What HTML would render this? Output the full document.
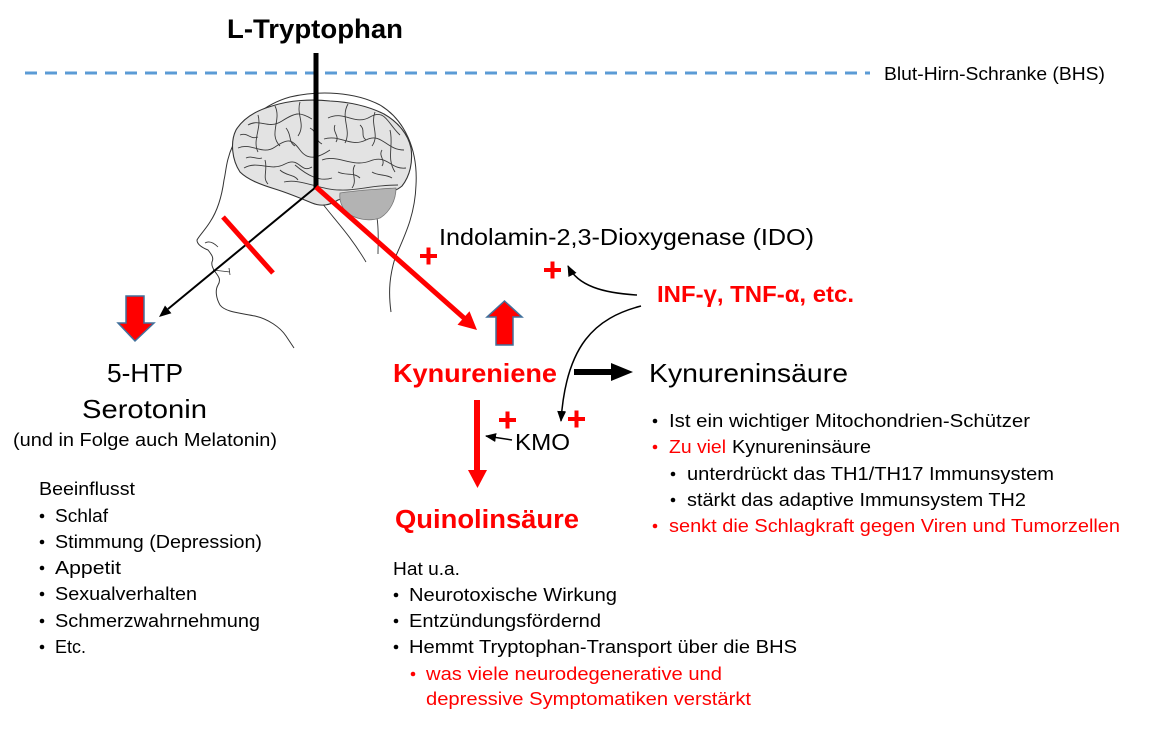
<!DOCTYPE html>
<html>
<head>
<meta charset="utf-8">
<style>
html,body{margin:0;padding:0;background:#fff;}
svg{display:block;}
text{font-family:"Liberation Sans",Arial,sans-serif;}
</style>
</head>
<body>
<svg width="1160" height="730" viewBox="0 0 1160 730" xmlns="http://www.w3.org/2000/svg">
<defs>
<marker id="ah" markerWidth="11" markerHeight="9" refX="10" refY="4.5" orient="auto" markerUnits="userSpaceOnUse">
<path d="M0,0 L11,4.5 L0,9 Z" fill="#000"/>
</marker>
</defs>
<rect width="1160" height="730" fill="#fff"/>

<!-- Blood-brain barrier dashed line -->
<path d="M25,73 H870" stroke="#5B9BD5" stroke-width="3" stroke-dasharray="12,8" fill="none"/>

<!-- Head outline -->
<path d="M391,312 C388,290 390,275 395,258 C405,235 415,215 416,185 C418,150 405,120 380,105 C355,92 320,90 290,97 C265,104 243,122 233,145 C226,160 226,172 224,180 C222,195 218,210 210,222 C205,230 199,236 197,240 C197,245 203,248 208,250 C212,255 214,258 212,262 C211,266 214,270 216,273 C219,277 221,280 218,285 C215,290 216,298 220,305 C225,312 240,313 255,316 C268,319 280,327 286,336 L294,348" fill="none" stroke="#333" stroke-width="1"/>
<path d="M213,270 L230,272 M229,268 L230,275" fill="none" stroke="#333" stroke-width="0.8"/>
<path d="M205,243 C210,240 215,244 218,247" fill="none" stroke="#333" stroke-width="0.8"/>
<!-- neck lines -->
<path d="M322,203 C335,220 350,235 366,262" fill="none" stroke="#333" stroke-width="0.9"/>
<path d="M377,218 C379,230 378,242 378,254" fill="none" stroke="#333" stroke-width="0.9"/>

<!-- Brain -->
<path d="M240,172 C232,160 230,142 236,130 C244,117 258,110 272,106 C290,100 312,99 330,101 C350,102 368,106 384,114 C398,122 408,134 411,148 C413,162 410,176 402,186 C395,192 385,194 375,194 C360,194 348,196 338,200 C330,205 322,207 312,203 C300,198 288,193 275,189 C262,185 248,180 240,172 Z" fill="#e3e3e3" stroke="#333" stroke-width="1.1"/>
<path d="M340,193 C360,190 380,189 396,188 C396,200 390,212 380,218 C368,222 355,219 346,212 C341,206 339,200 340,193 Z" fill="#b3b3b3" stroke="#777" stroke-width="0.8"/>
<g fill="none" stroke="#3a3a3a" stroke-width="0.9">
<path d="M248,125 C260,118 268,130 282,121 S300,112 312,119"/>
<path d="M238,148 C252,142 262,156 275,147 S292,139 300,150 S318,158 330,150"/>
<path d="M244,168 C258,160 270,172 285,164 S300,174 312,167"/>
<path d="M328,118 C344,110 355,126 370,117 S388,124 400,135"/>
<path d="M324,139 C340,134 350,148 366,140 S386,150 404,150"/>
<path d="M322,160 C338,154 352,168 370,161 S390,170 406,168"/>
<path d="M275,106 C282,120 268,134 280,146"/>
<path d="M300,102 C296,115 306,124 298,136"/>
<path d="M348,104 C340,118 352,130 345,143"/>
<path d="M375,112 C370,125 380,135 372,146"/>
<path d="M258,115 C262,128 252,140 258,152"/>
<path d="M295,165 C308,176 320,182 332,178"/>
<path d="M284,182 C300,178 320,190 340,190 C356,191 372,185 398,185"/>
<path d="M390,130 C394,145 386,158 395,172"/>
<path d="M265,160 C268,170 262,178 268,184"/>
<path d="M355,165 C350,172 358,180 352,188"/>
<path d="M240,135 C248,132 250,140 258,137"/>
<path d="M286,128 C292,135 288,142 295,146"/>
<path d="M310,128 C318,132 314,140 322,144"/>
<path d="M335,125 C332,132 340,136 336,142"/>
<path d="M360,125 C366,130 360,136 366,140"/>
<path d="M246,158 C252,155 256,160 262,158"/>
<path d="M280,170 C286,176 294,174 298,180"/>
<path d="M382,150 C378,156 386,160 382,166"/>
<path d="M338,172 C346,176 354,172 360,178"/>
<path d="M372,172 C378,176 386,174 392,178"/>
</g>

<!-- Main vertical black line -->
<path d="M316,53 V189" stroke="#000" stroke-width="5"/>

<!-- thin black line to 5-HTP -->
<path d="M316,187 L168,309" stroke="#000" stroke-width="2" fill="none"/>
<polygon points="159,317 171.4,313.2 165,305.5" fill="#000"/>

<!-- red line to Kynureniene -->
<path d="M316,187 L464,318" stroke="#f00" stroke-width="5" fill="none"/>
<polygon points="477,330 457.5,324.7 469.5,311.3" fill="#f00"/>

<!-- red block bar -->
<path d="M223,217 L273,273" stroke="#f00" stroke-width="5"/>

<!-- block arrows -->
<polygon points="126,296 144,296 144,323 154,323 135,341 118,323 126,323" fill="#f00" stroke="#41719C" stroke-width="1.5"/>
<polygon points="504.5,301 522,317 513,317 513,345 496,345 496,317 487,317" fill="#f00" stroke="#41719C" stroke-width="1.5"/>

<!-- pluses -->
<g fill="#f00">
<rect x="420" y="254" width="17" height="4"/><rect x="426.5" y="247.5" width="4" height="17"/>
<rect x="544" y="268" width="17" height="4"/><rect x="550.5" y="261.5" width="4" height="17"/>
<rect x="499" y="418" width="17" height="4"/><rect x="505.5" y="411.5" width="4" height="17"/>
<rect x="568" y="417" width="17" height="4"/><rect x="574.5" y="410.5" width="4" height="17"/>
</g>

<!-- curved arrows -->
<path d="M637,295 C603,293 578,286 568,266" fill="none" stroke="#000" stroke-width="1.5" marker-end="url(#ah)"/>
<path d="M641,306 C595,318 566,345 561,421" fill="none" stroke="#000" stroke-width="1.5" marker-end="url(#ah)"/>
<path d="M512,440 L486,436" fill="none" stroke="#000" stroke-width="1.5" marker-end="url(#ah)"/>

<!-- thick black arrow -->
<rect x="574" y="369" width="38" height="6" fill="#000"/>
<polygon points="611,363 633,372 611,381" fill="#000"/>

<!-- red down arrow -->
<rect x="474" y="400" width="6" height="71" fill="#f00"/>
<polygon points="468,470 487,470 477.5,488" fill="#f00"/>

<!-- Texts -->
<text x="227" y="38" font-size="27" font-weight="bold" fill="#000" textLength="176" lengthAdjust="spacingAndGlyphs">L-Tryptophan</text>
<text x="884" y="80" font-size="18" fill="#000" textLength="221" lengthAdjust="spacingAndGlyphs">Blut-Hirn-Schranke (BHS)</text>
<text x="439" y="245" font-size="23" fill="#000" textLength="375" lengthAdjust="spacingAndGlyphs">Indolamin-2,3-Dioxygenase (IDO)</text>
<text x="657" y="302" font-size="23" font-weight="bold" fill="#f00" textLength="197" lengthAdjust="spacingAndGlyphs">INF-γ, TNF-α, etc.</text>
<text x="393" y="382" font-size="26" font-weight="bold" fill="#f00" textLength="164" lengthAdjust="spacingAndGlyphs">Kynureniene</text>
<text x="649" y="382" font-size="26" fill="#000" textLength="199" lengthAdjust="spacingAndGlyphs">Kynureninsäure</text>
<text x="107" y="382" font-size="26" fill="#000" textLength="76" lengthAdjust="spacingAndGlyphs">5-HTP</text>
<text x="82" y="418" font-size="26" fill="#000" textLength="125" lengthAdjust="spacingAndGlyphs">Serotonin</text>
<text x="13" y="446" font-size="18" fill="#000" textLength="264" lengthAdjust="spacingAndGlyphs">(und in Folge auch Melatonin)</text>
<text x="515" y="450" font-size="23" fill="#000" textLength="55" lengthAdjust="spacingAndGlyphs">KMO</text>
<text x="395" y="528" font-size="25.5" font-weight="bold" fill="#f00" textLength="184" lengthAdjust="spacingAndGlyphs">Quinolinsäure</text>

<!-- Left list -->
<text x="39" y="495" font-size="18" fill="#000" textLength="96" lengthAdjust="spacingAndGlyphs">Beeinflusst</text>
<g fill="#000">
<circle cx="42" cy="516" r="2.3"/><circle cx="42" cy="542" r="2.3"/><circle cx="42" cy="568" r="2.3"/>
<circle cx="42" cy="594" r="2.3"/><circle cx="42" cy="621" r="2.3"/><circle cx="42" cy="647" r="2.3"/>
</g>
<text x="55" y="522" font-size="18" fill="#000" textLength="53" lengthAdjust="spacingAndGlyphs">Schlaf</text>
<text x="55" y="548" font-size="18" fill="#000" textLength="207" lengthAdjust="spacingAndGlyphs">Stimmung (Depression)</text>
<text x="55" y="574" font-size="18" fill="#000" textLength="66" lengthAdjust="spacingAndGlyphs">Appetit</text>
<text x="55" y="600" font-size="18" fill="#000" textLength="142" lengthAdjust="spacingAndGlyphs">Sexualverhalten</text>
<text x="55" y="627" font-size="18" fill="#000" textLength="205" lengthAdjust="spacingAndGlyphs">Schmerzwahrnehmung</text>
<text x="55" y="653" font-size="18" fill="#000" textLength="31" lengthAdjust="spacingAndGlyphs">Etc.</text>

<!-- Middle list -->
<text x="393" y="575" font-size="18" fill="#000" textLength="67" lengthAdjust="spacingAndGlyphs">Hat u.a.</text>
<g fill="#000">
<circle cx="396" cy="595" r="2.3"/><circle cx="396" cy="621" r="2.3"/><circle cx="396" cy="647" r="2.3"/>
</g>
<circle cx="413" cy="674" r="2.3" fill="#f00"/>
<text x="409" y="601" font-size="18" fill="#000" textLength="208" lengthAdjust="spacingAndGlyphs">Neurotoxische Wirkung</text>
<text x="409" y="627" font-size="18" fill="#000" textLength="192" lengthAdjust="spacingAndGlyphs">Entzündungsfördernd</text>
<text x="409" y="653" font-size="18" fill="#000" textLength="388" lengthAdjust="spacingAndGlyphs">Hemmt Tryptophan-Transport über die BHS</text>
<text x="426" y="680" font-size="18" fill="#f00" textLength="296" lengthAdjust="spacingAndGlyphs">was viele neurodegenerative und</text>
<text x="426" y="705" font-size="18" fill="#f00" textLength="325" lengthAdjust="spacingAndGlyphs">depressive Symptomatiken verstärkt</text>

<!-- Right list -->
<circle cx="655" cy="421" r="2.3" fill="#000"/>
<circle cx="655" cy="447" r="2.3" fill="#f00"/>
<circle cx="673" cy="474" r="2.3" fill="#000"/>
<circle cx="673" cy="500" r="2.3" fill="#000"/>
<circle cx="655" cy="526" r="2.3" fill="#f00"/>
<text x="669" y="427" font-size="18" fill="#000" textLength="361" lengthAdjust="spacingAndGlyphs">Ist ein wichtiger Mitochondrien-Schützer</text>
<text x="669" y="453" font-size="18" fill="#f00" textLength="57" lengthAdjust="spacingAndGlyphs">Zu viel</text>
<text x="732" y="453" font-size="18" fill="#000" textLength="139" lengthAdjust="spacingAndGlyphs">Kynureninsäure</text>
<text x="687" y="480" font-size="18" fill="#000" textLength="367" lengthAdjust="spacingAndGlyphs">unterdrückt das TH1/TH17 Immunsystem</text>
<text x="687" y="506" font-size="18" fill="#000" textLength="339" lengthAdjust="spacingAndGlyphs">stärkt das adaptive Immunsystem TH2</text>
<text x="669" y="532" font-size="18" fill="#f00" textLength="451" lengthAdjust="spacingAndGlyphs">senkt die Schlagkraft gegen Viren und Tumorzellen</text>
</svg>
</body>
</html>
